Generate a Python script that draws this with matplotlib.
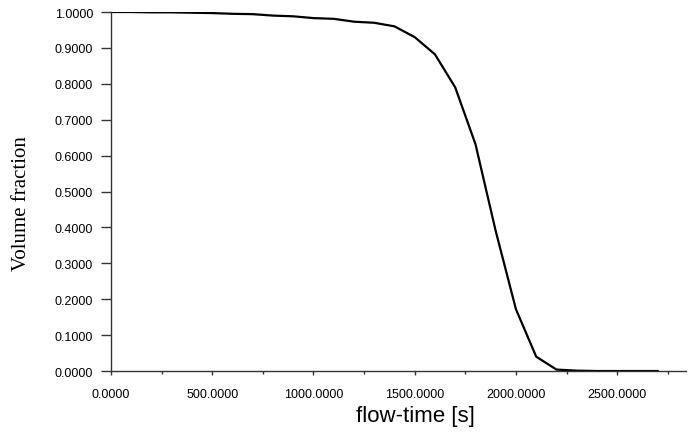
import numpy as np
import matplotlib.pyplot as plt
from matplotlib.ticker import MultipleLocator, FormatStrFormatter

# flow time [s] and volume fraction
flow_time = [0, 100, 200, 300, 400, 500, 600, 700, 800, 900, 1000, 1100, 1200,
             1300, 1400, 1500, 1600, 1700, 1800, 1900, 2000, 2100, 2200, 2300,
             2400, 2500, 2600, 2700]
vol_frac = [1.000, 1.000, 0.999, 0.999, 0.998, 0.997, 0.995, 0.994, 0.990,
            0.988, 0.983, 0.981, 0.973, 0.970, 0.960, 0.930, 0.882, 0.790,
            0.632, 0.390, 0.172, 0.040, 0.004, 0.001, 0.000, 0.000, 0.000, 0.000]

plt.rcParams['font.family'] = 'Liberation Sans'

fig = plt.figure(figsize=(6.94, 4.35), dpi=100)
ax = fig.add_axes([0.16, 0.1448, 0.8285, 0.8253])
ax.plot(flow_time, vol_frac, color='black', lw=1.6)

ax.set_xlim(0, 2840)
ax.set_ylim(0, 1.0)
ax.xaxis.set_major_locator(MultipleLocator(500))
ax.xaxis.set_minor_locator(MultipleLocator(250))
ax.yaxis.set_major_locator(MultipleLocator(0.1))
ax.xaxis.set_major_formatter(FormatStrFormatter('%.4f'))
ax.yaxis.set_major_formatter(FormatStrFormatter('%.4f'))

for s in ['top', 'right']:
    ax.spines[s].set_visible(False)
for s in ['left', 'bottom']:
    ax.spines[s].set_color('#333333')
    ax.spines[s].set_linewidth(1.0)

ax.tick_params(axis='y', direction='out', length=7, width=1, pad=6, labelsize=9, color='#333333')
ax.tick_params(axis='x', which='major', direction='out', length=3, width=1, pad=9, labelsize=9, color='#333333')
ax.tick_params(axis='x', which='minor', direction='out', length=2, width=1, color='#333333')

ax.set_xlabel('flow-time [s]', fontsize=16)
ax.xaxis.set_label_coords(0.53, -0.095)
ax.set_ylabel('Volume fraction', fontsize=15, family='Liberation Serif')
ax.yaxis.set_label_coords(-0.14, 0.47)

fig.savefig('out.png', dpi=100)
